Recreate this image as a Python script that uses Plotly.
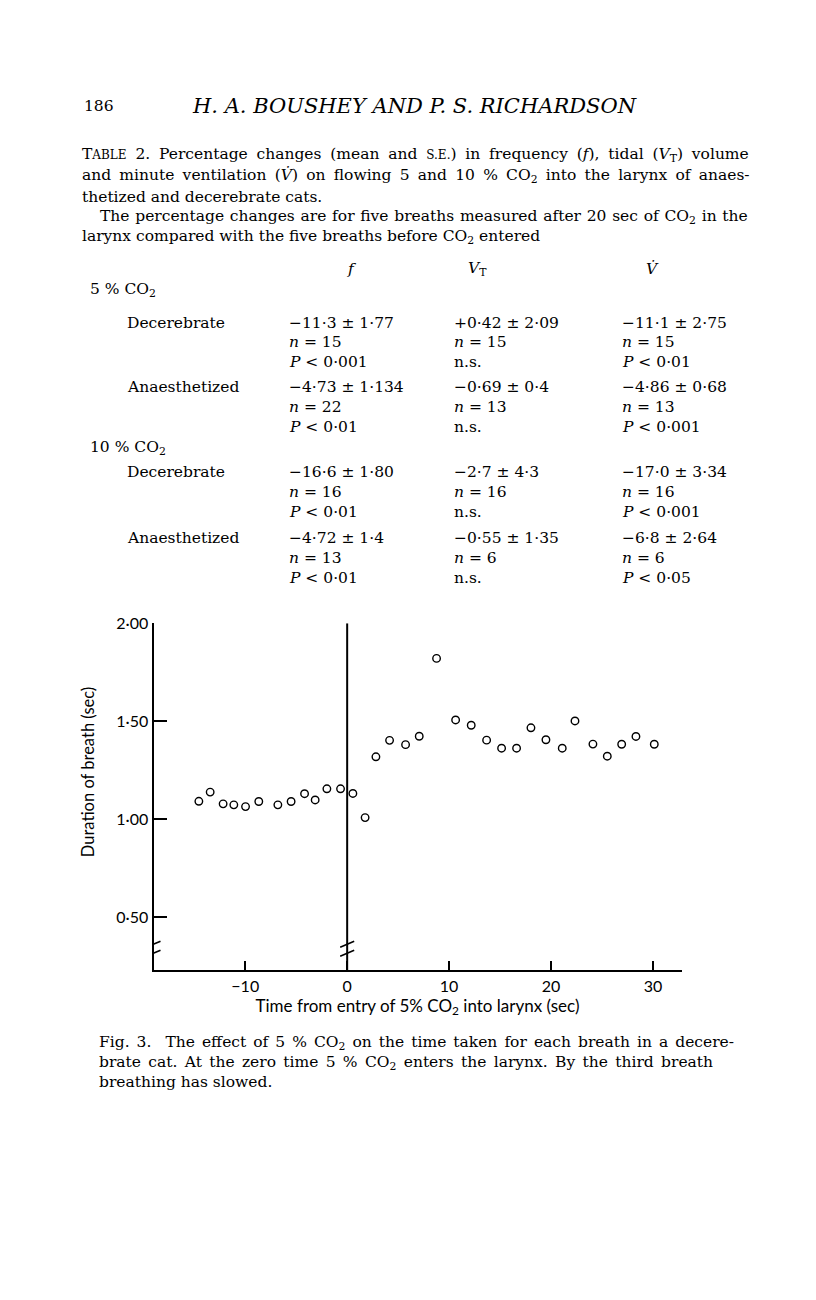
import plotly.graph_objects as go

W, H = 816, 1300
OFF = 8  # page body margin of the exported html
SERIF = "DejaVu Serif"
SANS = "Lato"
BODY = 15.5

# ---- table 2 values ----
gases = ["5 % CO<sub>2</sub>", "10 % CO<sub>2</sub>"]
preps = ["Decerebrate", "Anaesthetized"]

f_change = ["−11·3 ± 1·77", "−4·73 ± 1·134", "−16·6 ± 1·80", "−4·72 ± 1·4"]
f_n = [15, 22, 16, 13]
f_p = ["0·001", "0·01", "0·01", "0·01"]

vt_change = ["+0·42 ± 2·09", "−0·69 ± 0·4", "−2·7 ± 4·3", "−0·55 ± 1·35"]
vt_n = [15, 13, 16, 6]
vt_p = [None, None, None, None]  # n.s.

v_change = ["−11·1 ± 2·75", "−4·86 ± 0·68", "−17·0 ± 3·34", "−6·8 ± 2·64"]
v_n = [15, 13, 16, 6]
v_p = ["0·01", "0·001", "0·001", "0·05"]

# ---- fig 3 values: breath duration vs time ----
time_s = [-14.55, -13.44, -12.17, -11.12, -9.97, -8.67, -6.80, -5.50, -4.18,
          -3.14, -1.99, -0.65, 0.56, 1.76, 2.82, 4.16, 5.73, 7.07, 8.77,
          10.64, 12.17, 13.68, 15.15, 16.62, 18.03, 19.50, 21.10, 22.35,
          24.11, 25.52, 26.93, 28.33, 30.13]
duration_s = [1.092, 1.139, 1.079, 1.074, 1.065, 1.091, 1.074, 1.091, 1.131,
              1.099, 1.156, 1.156, 1.132, 1.009, 1.319, 1.403, 1.381, 1.424,
              1.821, 1.507, 1.480, 1.404, 1.363, 1.363, 1.467, 1.406, 1.363,
              1.502, 1.384, 1.322, 1.383, 1.423, 1.383]

x_ticks = [-10, 0, 10, 20, 30]
x_ticktext = ["−10", "0", "10", "20", "30"]
y_ticks = [0.5, 1.0, 1.5, 2.0]
y_ticktext = ["0·50", "1·00", "1·50", "2·00"]


def text(fig, x, y, s, size=BODY, family=SERIF, anchor="left", ws=None, angle=0):
    if ws:
        s = "<span style='word-spacing:%.1fpx'>%s</span>" % (ws, s)
    fig.add_annotation(xref="paper", yref="paper",
                       x=(x - OFF) / W, y=1 - (y - OFF) / H,
                       text=s, showarrow=False, xanchor=anchor, yanchor="middle",
                       textangle=angle,
                       font=dict(family=family, size=size, color="black"))


fig = go.Figure()

fig.add_trace(go.Scatter(
    x=time_s, y=duration_s, mode="markers",
    marker=dict(symbol="circle-open", size=7.5, color="black",
                line=dict(width=1.4, color="black")),
    hoverinfo="x+y"))

# vertical line at CO2 entry
fig.add_shape(type="line", xref="x", yref="y", x0=0, x1=0, y0=0.23, y1=2.0,
              line=dict(color="black", width=2))

# axis break marks (y axis and zero line)
for xa in [-19, 0]:
    for y0, y1 in [(1.5, 7.5), (-7.5, -1.5)]:
        fig.add_shape(type="line", xref="x", yref="y",
                      xsizemode="pixel", ysizemode="pixel",
                      xanchor=xa, yanchor=0.34,
                      x0=-7, x1=7, y0=y0, y1=y1,
                      line=dict(color="black", width=1.6))

tickfont = dict(family=SANS, size=16, color="black")
fig.update_xaxes(domain=[(153.5 - OFF) / W, (681.5 - OFF) / W], range=[-19, 32.8],
                 tickvals=x_ticks, ticktext=x_ticktext, ticks="inside",
                 ticklen=9, tickwidth=2, tickcolor="black",
                 showline=True, linewidth=2, linecolor="black",
                 showgrid=False, zeroline=False, tickfont=tickfont,
                 title=dict(text="Time from entry of 5% CO<sub>2</sub> into larynx (sec)",
                            font=dict(family=SANS, size=17, color="black"),
                            standoff=0))
fig.update_yaxes(domain=[1 - (967.7 - OFF) / H, 1 - (618 - OFF) / H], range=[0.23, 2.0],
                 tickvals=y_ticks, ticktext=y_ticktext, ticks="inside",
                 ticklen=13, tickwidth=2, tickcolor="black",
                 showline=True, linewidth=2, linecolor="black",
                 showgrid=False, zeroline=False, tickfont=tickfont)

# y axis title sits above the axis centre in the original
text(fig, 88, 768, "Duration of breath (sec)", size=16.5, family=SANS,
     anchor="center", angle=-90)

# ---- page text ----
text(fig, 82, 97, "186", size=15.5)
text(fig, 414, 97, "<i>H. A. BOUSHEY AND P. S. RICHARDSON</i>", size=21, anchor="center")

cap = [
    (80, 146, 3.9, "T<span style='font-size:12px'>ABLE</span> 2. Percentage changes (mean and "
                   "<span style='font-size:12px'>S.E.</span>) in frequency (<i>f</i>), tidal "
                   "(<i>V</i><sub>T</sub>) volume"),
    (80, 167, 3.3, "and minute ventilation (<i>V̇</i>) on flowing 5 and 10 % CO<sub>2</sub> "
                   "into the larynx of anaes-"),
    (80, 188, None, "thetized and decerebrate cats."),
    (98, 209, 0.8, "The percentage changes are for five breaths measured after 20 sec of "
                   "CO<sub>2</sub> in the"),
    (80, 229, None, "larynx compared with the five breaths before CO<sub>2</sub> entered"),
]
for x, y, ws, s in cap:
    text(fig, x, y, s, ws=ws)

text(fig, 352, 261, "<i>f</i>", anchor="center")
text(fig, 478, 261, "<i>V</i><sub>T</sub>", anchor="center")
text(fig, 652, 261, "<i>V̇</i>", anchor="center")

gas_y = [282, 441]
block_y = [[315, 380], [466, 532]]
cols = [(287, f_change, f_n, f_p), (452, vt_change, vt_n, vt_p), (620, v_change, v_n, v_p)]
k = 0
for g, gas in enumerate(gases):
    text(fig, 88, gas_y[g], gas)
    for p, prep in enumerate(preps):
        y = block_y[g][p]
        text(fig, 125, y, prep)
        for cx, chg, ns, ps in cols:
            text(fig, cx, y, chg[k])
            text(fig, cx, y + 20, "<i>n</i> = %d" % ns[k])
            text(fig, cx, y + 40, "n.s." if ps[k] is None else "<i>P</i> &lt; " + ps[k])
        k += 1

fig_cap = [
    (97, 1041, 2.1, "Fig. 3.  The effect of 5 % CO<sub>2</sub> on the time taken for each "
                    "breath in a decere-"),
    (97, 1061, 2.4, "brate cat. At the zero time 5 % CO<sub>2</sub> enters the larynx. By "
                    "the third breath"),
    (97, 1080, None, "breathing has slowed."),
]
for x, y, ws, s in fig_cap:
    text(fig, x, y, s, ws=ws)

fig.update_layout(width=W, height=H, margin=dict(l=0, r=0, t=0, b=0),
                  paper_bgcolor="white", plot_bgcolor="white", showlegend=False)

fig.write_html("out.html")
